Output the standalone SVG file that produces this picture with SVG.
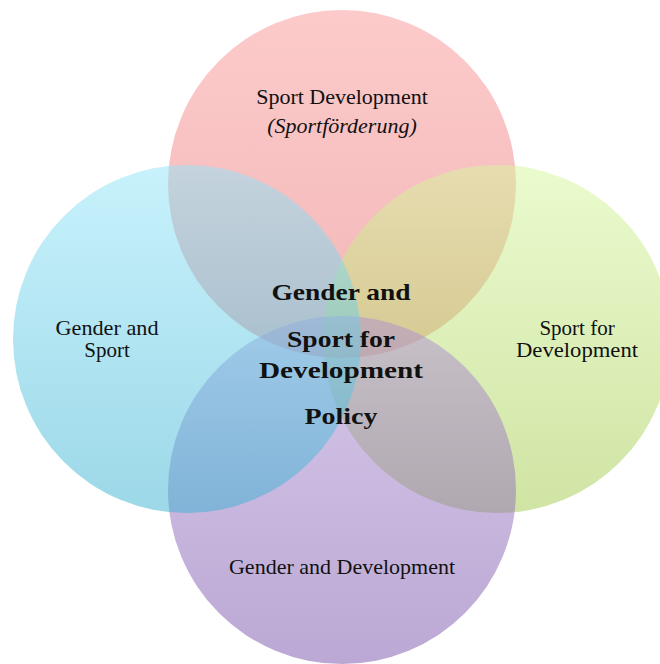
<svg xmlns="http://www.w3.org/2000/svg" width="660" height="664" viewBox="0 0 660 664">
  <defs>
    <linearGradient id="gTop" x1="0" y1="0" x2="0" y2="1">
      <stop offset="0" stop-color="#FA9696"/>
      <stop offset="1" stop-color="#E66E70"/>
    </linearGradient>
    <linearGradient id="gRight" x1="0" y1="0" x2="0" y2="1">
      <stop offset="0" stop-color="#D5F79D"/>
      <stop offset="1" stop-color="#A1C949"/>
    </linearGradient>
    <linearGradient id="gBottom" x1="0" y1="0" x2="0" y2="1">
      <stop offset="0" stop-color="#B191D5"/>
      <stop offset="1" stop-color="#7751A9"/>
    </linearGradient>
    <linearGradient id="gLeft" x1="0" y1="0" x2="0" y2="1">
      <stop offset="0" stop-color="#91E5F9"/>
      <stop offset="1" stop-color="#39B1D1"/>
    </linearGradient>
  </defs>
  <style>
    .c { fill-opacity: 0.5; stroke: none; }
    .t { font-family: "Liberation Serif", "Times New Roman", serif; font-size: 22px; fill: #111; text-anchor: middle; }
    .s { font-size: 21px; }
    .i { font-style: italic; }
    .b { font-family: "Liberation Serif", "Times New Roman", serif; font-size: 24px; font-weight: bold; fill: #111; text-anchor: middle; }
  </style>
  <g id="connectors"/>
  <g id="node-sport-development">
    <circle class="c" cx="342" cy="184" r="174" fill="url(#gTop)"/>
  </g>
  <g id="node-sport-for-development">
    <circle class="c" cx="497" cy="339" r="174" fill="url(#gRight)"/>
  </g>
  <g id="node-gender-and-development">
    <circle class="c" cx="342" cy="490" r="174" fill="url(#gBottom)"/>
  </g>
  <g id="node-gender-and-sport">
    <circle class="c" cx="187" cy="339" r="174" fill="url(#gLeft)"/>
  </g>
  <g id="labels">
    <text class="t" x="342" y="103.5">Sport Development</text>
    <text class="t i" x="342" y="133">(Sportförderung)</text>
    <text class="t s" x="107" y="335" textLength="103" lengthAdjust="spacingAndGlyphs">Gender and</text>
    <text class="t s" x="107" y="357">Sport</text>
    <text class="t s" x="577" y="335">Sport for</text>
    <text class="t s" x="577" y="357" textLength="122" lengthAdjust="spacingAndGlyphs">Development</text>
    <text class="t" x="342" y="574">Gender and Development</text>
    <text class="b" x="341" y="300" textLength="139" lengthAdjust="spacingAndGlyphs">Gender and</text>
    <text class="b" x="341" y="347" textLength="108" lengthAdjust="spacingAndGlyphs">Sport for</text>
    <text class="b" x="341" y="378" textLength="164" lengthAdjust="spacingAndGlyphs">Development</text>
    <text class="b" x="341" y="424" textLength="73" lengthAdjust="spacingAndGlyphs">Policy</text>
  </g>
</svg>
